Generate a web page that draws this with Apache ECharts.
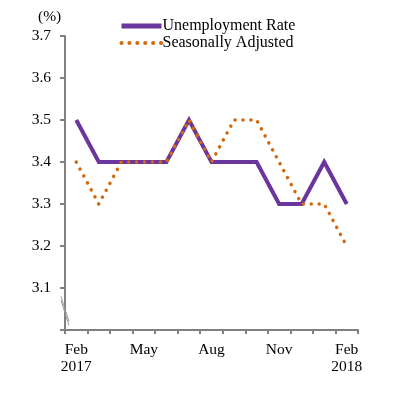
<!DOCTYPE html>
<html>
<head>
<meta charset="utf-8">
<script src="https://cdn.jsdelivr.net/npm/echarts@6/dist/echarts.min.js"></script>
<style>
html, body { margin: 0; padding: 0; background: #fff; }
#main { width: 405px; height: 398px; }
</style>
</head>
<body>
<div id="main"></div>
<script>
// months Feb 2017 - Feb 2018
var months = ['Feb\n2017', 'Mar', 'Apr', 'May', 'Jun', 'Jul', 'Aug', 'Sep', 'Oct', 'Nov', 'Dec', 'Jan', 'Feb\n2018'];
var shownLabels = [0, 3, 6, 9, 12];
var unemploymentRate = [3.5, 3.4, 3.4, 3.4, 3.4, 3.5, 3.4, 3.4, 3.4, 3.3, 3.3, 3.4, 3.3];
var seasonallyAdjusted = [3.4, 3.3, 3.4, 3.4, 3.4, 3.5, 3.4, 3.5, 3.5, 3.4, 3.3, 3.3, 3.2];
var yTicks = ['3.1', '3.2', '3.3', '3.4', '3.5', '3.6', '3.7'];

var font = '"Liberation Serif", "Times New Roman", serif';
var axisColor = '#808080';
var purple = '#6A359C', orange = '#D2690E';

var myChart = echarts.init(document.getElementById('main'));
myChart.setOption({
    animation: false,
    textStyle: {fontFamily: font},
    title: {
        text: '(%)',
        left: 33,
        top: 4,
        textStyle: {fontFamily: font, fontSize: 15.5, fontWeight: 'normal', color: '#000'}
    },
    legend: {
        orient: 'vertical',
        left: 114,
        top: 13,
        itemWidth: 40,
        itemHeight: 10,
        itemGap: 1,
        itemStyle: {opacity: 0},
        textStyle: {fontFamily: font, fontSize: 16, color: '#000', padding: [0, 0, 0, -4]},
        data: [{
            name: 'Unemployment Rate',
            lineStyle: {color: purple, width: 5}
        }, {
            name: 'Seasonally Adjusted',
            lineStyle: {color: orange, width: 4, type: [0.1, 7.8], cap: 'round'}
        }]
    },
    grid: {left: 65, right: 47, top: 36, bottom: 68},
    xAxis: {
        type: 'category',
        data: months,
        boundaryGap: true,
        axisLine: {lineStyle: {color: axisColor, width: 2}},
        axisTick: {show: true, length: 4, interval: 0, lineStyle: {color: axisColor, width: 2}},
        axisLabel: {
            interval: 0,
            margin: 11,
            fontFamily: font,
            fontSize: 15.5,
            color: '#000',
            lineHeight: 17,
            formatter: function (val, idx) {
                return shownLabels.indexOf(idx) >= 0 ? val : '';
            }
        }
    },
    yAxis: {
        type: 'value',
        min: 3.0,
        max: 3.7,
        interval: 0.1,
        axisLine: {show: true, lineStyle: {color: axisColor, width: 2}},
        axisTick: {show: true, length: 5, lineStyle: {color: axisColor, width: 2}},
        splitLine: {show: false},
        axisLabel: {
            margin: 14,
            fontFamily: font,
            fontSize: 15.5,
            color: '#000',
            formatter: function (v) {
                var s = v.toFixed(1);
                return yTicks.indexOf(s) >= 0 ? s : '';
            }
        }
    },
    series: [{
        name: 'Unemployment Rate',
        type: 'line',
        data: unemploymentRate,
        symbol: 'none',
        itemStyle: {color: purple},
        lineStyle: {color: purple, width: 4, join: 'miter'},
        z: 3
    }, {
        name: 'Seasonally Adjusted',
        type: 'line',
        data: seasonallyAdjusted,
        symbol: 'none',
        itemStyle: {color: orange},
        lineStyle: {color: orange, width: 3.5, type: [0.1, 7.8], cap: 'round'},
        z: 4
    }]
});

// axis break marks on the y axis
var axX = 65;
var yA = myChart.convertToPixel({yAxisIndex: 0}, 3.08);
var yB = myChart.convertToPixel({yAxisIndex: 0}, 3.02);
myChart.setOption({
    graphic: [{
        type: 'line',
        shape: {x1: axX - 4, y1: yA, x2: axX + 4, y2: yB},
        style: {stroke: '#999', lineWidth: 1},
        z: 10
    }, {
        type: 'line',
        shape: {x1: axX - 4, y1: yA + 4, x2: axX + 4, y2: yB + 4},
        style: {stroke: '#999', lineWidth: 1},
        z: 10
    }]
});
</script>
</body>
</html>
